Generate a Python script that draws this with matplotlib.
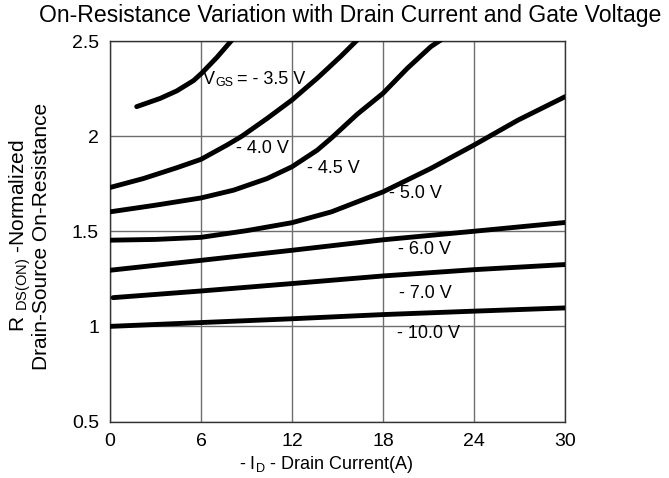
import matplotlib
matplotlib.use("Agg")
import matplotlib.pyplot as plt
from matplotlib.transforms import offset_copy

plt.rcParams['font.family'] = ['Liberation Sans', 'DejaVu Sans']
plt.rcParams['mathtext.fontset'] = 'custom'
plt.rcParams['mathtext.rm'] = 'Liberation Sans'
plt.rcParams['mathtext.it'] = 'Liberation Sans'

# Data
x_35 = [1.76, 3.30, 4.41, 5.51, 6.06, 7.05, 8.04]
y_35 = [2.155, 2.198, 2.238, 2.292, 2.332, 2.414, 2.505]
x_40 = [0.0, 2.2, 4.41, 6.0, 7.71, 8.7, 10.36, 12.0, 13.66, 15.2, 16.3]
y_40 = [1.73, 1.777, 1.834, 1.878, 1.953, 2.0, 2.093, 2.19, 2.304, 2.418, 2.505]
x_45 = [0.0, 3.0, 6.0, 8.15, 10.36, 12.0, 13.66, 14.6, 16.3, 18.0, 19.6, 21.15, 21.9]
y_45 = [1.602, 1.637, 1.675, 1.716, 1.777, 1.839, 1.926, 1.99, 2.115, 2.225, 2.356, 2.47, 2.51]
x_50 = [0.0, 3.0, 6.0, 9.0, 12.0, 14.6, 18.0, 21.15, 24.0, 26.9, 30.0]
y_50 = [1.453, 1.457, 1.468, 1.503, 1.545, 1.602, 1.707, 1.83, 1.953, 2.084, 2.207]
x_60 = [0.0, 6.0, 12.0, 18.0, 24.0, 30.0]
y_60 = [1.295, 1.347, 1.40, 1.455, 1.50, 1.546]
x_70 = [0.2, 6.0, 12.0, 18.0, 24.0, 30.0]
y_70 = [1.151, 1.186, 1.225, 1.265, 1.298, 1.325]
x_100 = [0.0, 6.0, 12.0, 18.0, 24.0, 30.0]
y_100 = [1.0, 1.02, 1.04, 1.062, 1.08, 1.097]

curves = [(x_35, y_35), (x_40, y_40), (x_45, y_45), (x_50, y_50),
          (x_60, y_60), (x_70, y_70), (x_100, y_100)]

labels = ["- 4.0 V", "- 4.5 V", "- 5.0 V", "- 6.0 V", "- 7.0 V", "- 10.0 V"]
label_x = [8.3, 13.0, 18.4, 19.0, 19.05, 18.9]
label_y = [1.935, 1.83, 1.70, 1.405, 1.172, 0.965]
vgs_x, vgs_y = 6.1, 2.30

xticks = [0, 6, 12, 18, 24, 30]
yticks = [0.5, 1, 1.5, 2, 2.5]
ytick_labels = ["0.5", "1", "1.5", "2", "2.5"]

fig = plt.figure(figsize=(6.69, 4.78), dpi=100)
ax = fig.add_axes([110/669, 1-421.5/478, 455/669, 380.5/478])

for xs, ys in curves:
    ax.plot(xs, ys, color='black', lw=3.5, solid_capstyle='round',
            solid_joinstyle='round', zorder=3)

for lab, lx, ly in zip(labels, label_x, label_y):
    ax.text(lx, ly, lab, fontsize=13, ha='left', va='center', zorder=4)

# V_GS label built from pieces
ax.text(vgs_x, vgs_y, "V", fontsize=13, ha='left', va='center', zorder=4)
ax.text(vgs_x, vgs_y, "GS", fontsize=9,  ha='left', va='center', zorder=4,
        transform=offset_copy(ax.transData, fig=fig, x=12.5, y=-4, units='dots'))
ax.text(vgs_x, vgs_y, "= - 3.5 V", fontsize=13, ha='left', va='center', zorder=4,
        transform=offset_copy(ax.transData, fig=fig, x=34, y=0, units='dots'))

ax.set_xlim(0, 30)
ax.set_ylim(0.5, 2.5)
ax.set_xticks(xticks)
ax.set_yticks(yticks)
ax.set_yticklabels(ytick_labels)
ax.tick_params(length=0, labelsize=14, pad=8)
ax.grid(True, color='#6e6e6e', lw=1.0, zorder=1)
for s in ax.spines.values():
    s.set_color('#333333')
    s.set_linewidth(1.0)

ax.set_xlabel("- I$_{\\mathregular{D}}$ - Drain Current(A)", fontsize=13)
ax.xaxis.set_label_coords(0.475, -0.085)
ax.set_ylabel("R $_{\\mathregular{DS(ON)}}$ -Normalized\nDrain-Source On-Resistance",
              fontsize=15, multialignment='center', linespacing=0.95)
ax.yaxis.set_label_coords(-0.13, 0.487)
fig.text(0.523, 0.968, "On-Resistance Variation with Drain Current and Gate Voltage",
         fontsize=16.6, ha='center', va='center')

fig.savefig("out.png", dpi=100)
